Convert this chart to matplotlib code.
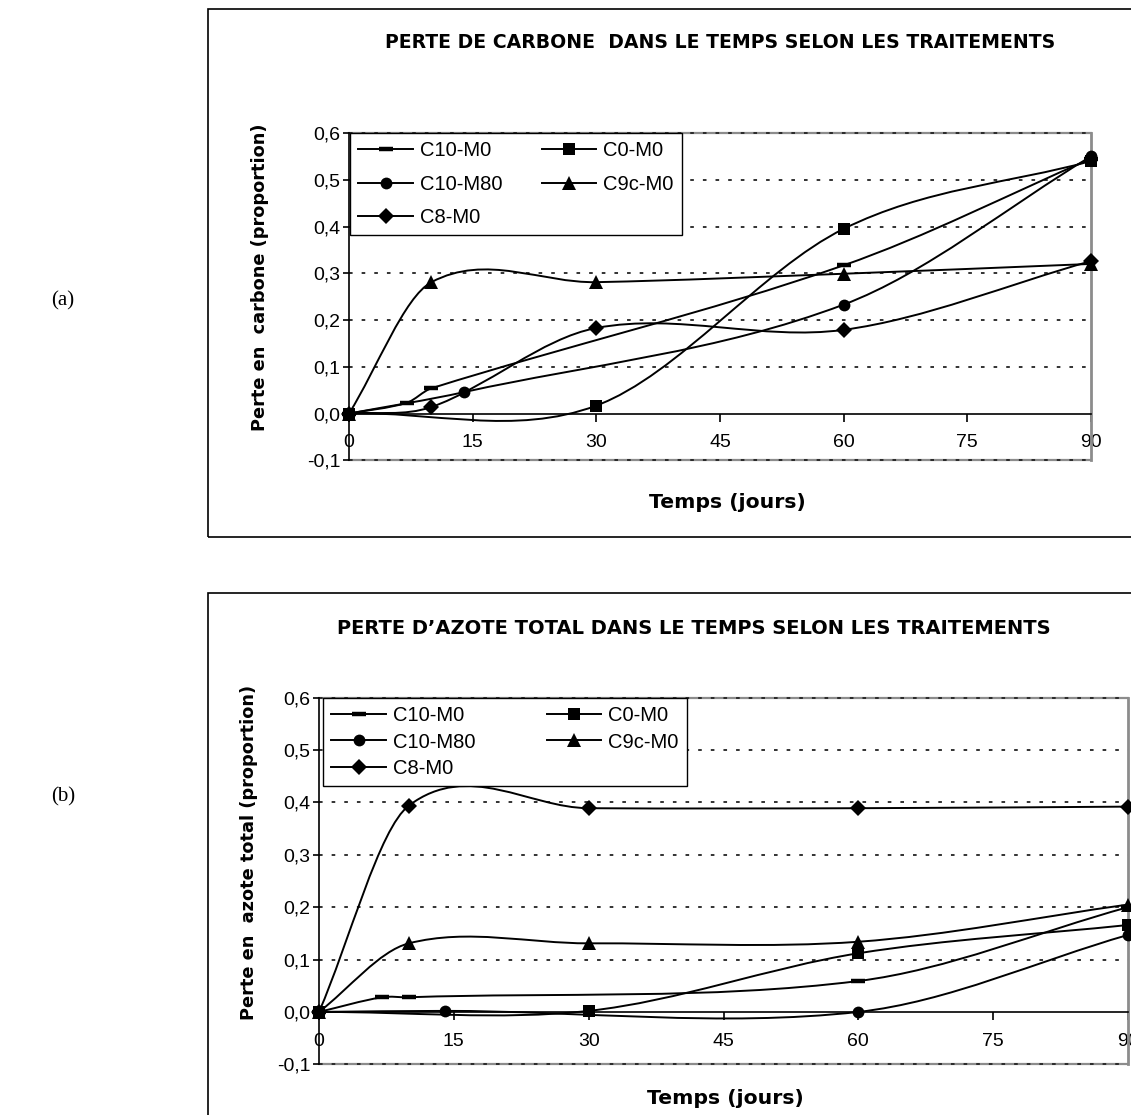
import matplotlib
matplotlib.use('Agg')
import matplotlib.pyplot as plt
from matplotlib.path import Path
from matplotlib.patches import PathPatch, Rectangle
from matplotlib.lines import Line2D
from matplotlib.ticker import FuncFormatter

W, H = 1131, 1115

# ---- data (days, proportion) ----
series_names = ['C10-M0', 'C0-M0', 'C10-M80', 'C9c-M0', 'C8-M0']

# (a) perte de carbone
c_x_c10m0 = [0, 7, 10, 60, 90]
c_y_c10m0 = [0.0, 0.023, 0.054, 0.317, 0.545]
c_x_c0m0 = [0, 30, 60, 90]
c_y_c0m0 = [0.0, 0.017, 0.395, 0.540]
c_x_c10m80 = [0, 14, 60, 90]
c_y_c10m80 = [0.0, 0.046, 0.233, 0.550]
c_x_c9cm0 = [0, 10, 30, 60, 90]
c_y_c9cm0 = [0.0, 0.281, 0.281, 0.299, 0.320]
c_x_c8m0 = [0, 10, 30, 60, 90]
c_y_c8m0 = [0.0, 0.014, 0.183, 0.179, 0.326]

# (b) perte d'azote total
n_x_c10m0 = [0, 7, 10, 60, 90]
n_y_c10m0 = [0.0, 0.028, 0.028, 0.059, 0.200]
n_x_c0m0 = [0, 30, 60, 90]
n_y_c0m0 = [0.0, 0.002, 0.112, 0.166]
n_x_c10m80 = [0, 14, 60, 90]
n_y_c10m80 = [0.0, 0.002, 0.0, 0.147]
n_x_c9cm0 = [0, 10, 30, 60, 90]
n_y_c9cm0 = [0.0, 0.131, 0.131, 0.134, 0.205]
n_x_c8m0 = [0, 10, 30, 60, 90]
n_y_c8m0 = [0.0, 0.394, 0.389, 0.389, 0.392]

x_ticks = [0, 15, 30, 45, 60, 75, 90]
y_ticks = [-0.1, 0.0, 0.1, 0.2, 0.3, 0.4, 0.5, 0.6]

# legend is filled row by row in the original
legend_order = ['C10-M0', 'C10-M80', 'C8-M0', 'C0-M0', 'C9c-M0']

markers = {'C10-M0': dict(marker='_', ms=10, mew=3.2),
           'C0-M0': dict(marker='s', ms=8, mew=0),
           'C10-M80': dict(marker='o', ms=8.5, mew=0),
           'C9c-M0': dict(marker='^', ms=10, mew=0),
           'C8-M0': dict(marker='D', ms=8.5, mew=0)}


def fx(px):
    return px / W


def fy(py):
    return 1 - py / H


def smooth_path(xs, ys):
    # smoothed line like excel: cubic bezier segments through the points
    n = len(xs)
    slopes = []
    for i in range(n):
        a = max(i - 1, 0)
        b = min(i + 1, n - 1)
        slopes.append((ys[b] - ys[a]) / (xs[b] - xs[a]))
    verts = [(xs[0], ys[0])]
    codes = [Path.MOVETO]
    for i in range(n - 1):
        d = (xs[i + 1] - xs[i]) / 3.0
        verts += [(xs[i] + d, ys[i] + slopes[i] * d),
                  (xs[i + 1] - d, ys[i + 1] - slopes[i + 1] * d),
                  (xs[i + 1], ys[i + 1])]
        codes += [Path.CURVE4] * 3
    return Path(verts, codes)


def draw_chart(ax, data):
    ax.set_xlim(0, 90)
    ax.set_ylim(-0.1, 0.6)
    for yv in [0.1, 0.2, 0.3, 0.4, 0.5, 0.6, -0.1]:
        ax.axhline(yv, color='#222222', lw=1.3, dashes=(2.0, 5.0), zorder=1, clip_on=False)
    ax.axhline(0.6, color='#8c8c8c', lw=1.6, zorder=0.5, clip_on=False)
    ax.axhline(-0.1, color='#8c8c8c', lw=1.6, zorder=0.5, clip_on=False)
    for name, xs, ys in data:
        ax.add_patch(PathPatch(smooth_path(xs, ys), fill=False, color='black', lw=1.4, zorder=3,
                               clip_on=False))
        m = markers[name]
        ax.plot(xs, ys, linestyle='none', color='black', marker=m['marker'], ms=m['ms'],
                mew=m['mew'], zorder=4, clip_on=False)

    ax.spines['left'].set_color('black')
    ax.spines['left'].set_linewidth(1.2)
    ax.spines['bottom'].set_position(('data', 0))
    ax.spines['bottom'].set_color('black')
    ax.spines['bottom'].set_linewidth(1.2)
    ax.spines['top'].set_visible(False)
    ax.spines['right'].set_color('#8c8c8c')
    ax.spines['right'].set_linewidth(2)
    ax.set_xticks(x_ticks)
    ax.set_yticks(y_ticks)
    ax.yaxis.set_major_formatter(FuncFormatter(lambda v, p: ('%.1f' % v).replace('.', ',')))
    ax.tick_params(axis='x', direction='out', length=6, width=1.2, pad=9, labelsize=14)
    ax.tick_params(axis='y', direction='out', length=4, width=1.2, pad=2, labelsize=14)
    for lab in ax.get_xticklabels() + ax.get_yticklabels():
        lab.set_family('Liberation Sans')
    ax.set_facecolor('none')


def add_legend(ax, x0, y0, w, h, spacing):
    hs = []
    for name in legend_order:
        m = markers[name]
        hs.append(Line2D([], [], color='black', lw=1.4, marker=m['marker'], ms=m['ms'],
                         mew=m['mew']))
    leg = ax.legend(hs, legend_order, ncol=2, loc='upper left', mode='expand',
                    bbox_to_anchor=(fx(x0), fy(y0 + h), fx(x0 + w) - fx(x0), h / H),
                    bbox_transform=fig.transFigure, borderaxespad=0, frameon=True,
                    fancybox=False, framealpha=1, edgecolor='black', handlelength=2.7,
                    handletextpad=0.35, labelspacing=spacing, borderpad=0.42,
                    prop={'family': 'Liberation Sans', 'size': 14.5})
    leg.get_frame().set_linewidth(1.0)
    leg.set_zorder(5)
    return leg


fig = plt.figure(figsize=(W / 100, H / 100), dpi=100)
fig.patch.set_facecolor('white')

# outer frames
fig.patches.append(Rectangle((fx(208), fy(537)), fx(1140) - fx(208), (537 - 9) / H,
                             transform=fig.transFigure, fill=False, ec='black', lw=1.2))
fig.patches.append(Rectangle((fx(208), fy(1125)), fx(1140) - fx(208), (1125 - 593) / H,
                             transform=fig.transFigure, fill=False, ec='black', lw=1.2))

# ---------------- (a) ----------------
ax1 = fig.add_axes([fx(349), fy(460.3), fx(1091) - fx(349), (460.3 - 133) / H])
draw_chart(ax1, [('C10-M0', c_x_c10m0, c_y_c10m0), ('C0-M0', c_x_c0m0, c_y_c0m0),
                 ('C10-M80', c_x_c10m80, c_y_c10m80), ('C9c-M0', c_x_c9cm0, c_y_c9cm0),
                 ('C8-M0', c_x_c8m0, c_y_c8m0)])
add_legend(ax1, 350, 133, 332, 102, 0.7)

fig.text(fx(720), fy(42), 'PERTE DE CARBONE  DANS LE TEMPS SELON LES TRAITEMENTS',
         ha='center', va='center', fontsize=13.6, fontweight='bold', family='DejaVu Sans')
fig.text(fx(260), fy(277), 'Perte en  carbone (proportion)', rotation=90, ha='center',
         va='center', fontsize=12.8, fontweight='bold', family='DejaVu Sans')
fig.text(fx(727), fy(503), 'Temps (jours)', ha='center', va='center', fontsize=14.7,
         fontweight='bold', family='DejaVu Sans')
fig.text(fx(63), fy(301), '(a)', ha='center', va='center', fontsize=15,
         family='Liberation Serif')

# ---------------- (b) ----------------
ax2 = fig.add_axes([fx(319), fy(1064.3), fx(1128) - fx(319), (1064.3 - 697.7) / H])
draw_chart(ax2, [('C10-M0', n_x_c10m0, n_y_c10m0), ('C0-M0', n_x_c0m0, n_y_c0m0),
                 ('C10-M80', n_x_c10m80, n_y_c10m80), ('C9c-M0', n_x_c9cm0, n_y_c9cm0),
                 ('C8-M0', n_x_c8m0, n_y_c8m0)])
add_legend(ax2, 323, 698, 364, 88, 0.35)

fig.text(fx(694), fy(628), 'PERTE D\u2019AZOTE TOTAL DANS LE TEMPS SELON LES TRAITEMENTS',
         ha='center', va='center', fontsize=14, fontweight='bold', family='DejaVu Sans')
fig.text(fx(249), fy(852), 'Perte en  azote total (proportion)', rotation=90, ha='center',
         va='center', fontsize=12.8, fontweight='bold', family='DejaVu Sans')
fig.text(fx(725), fy(1098), 'Temps (jours)', ha='center', va='center', fontsize=14.7,
         fontweight='bold', family='DejaVu Sans')
fig.text(fx(63), fy(797), '(b)', ha='center', va='center', fontsize=15,
         family='Liberation Serif')

fig.savefig('out.png', dpi=100)
